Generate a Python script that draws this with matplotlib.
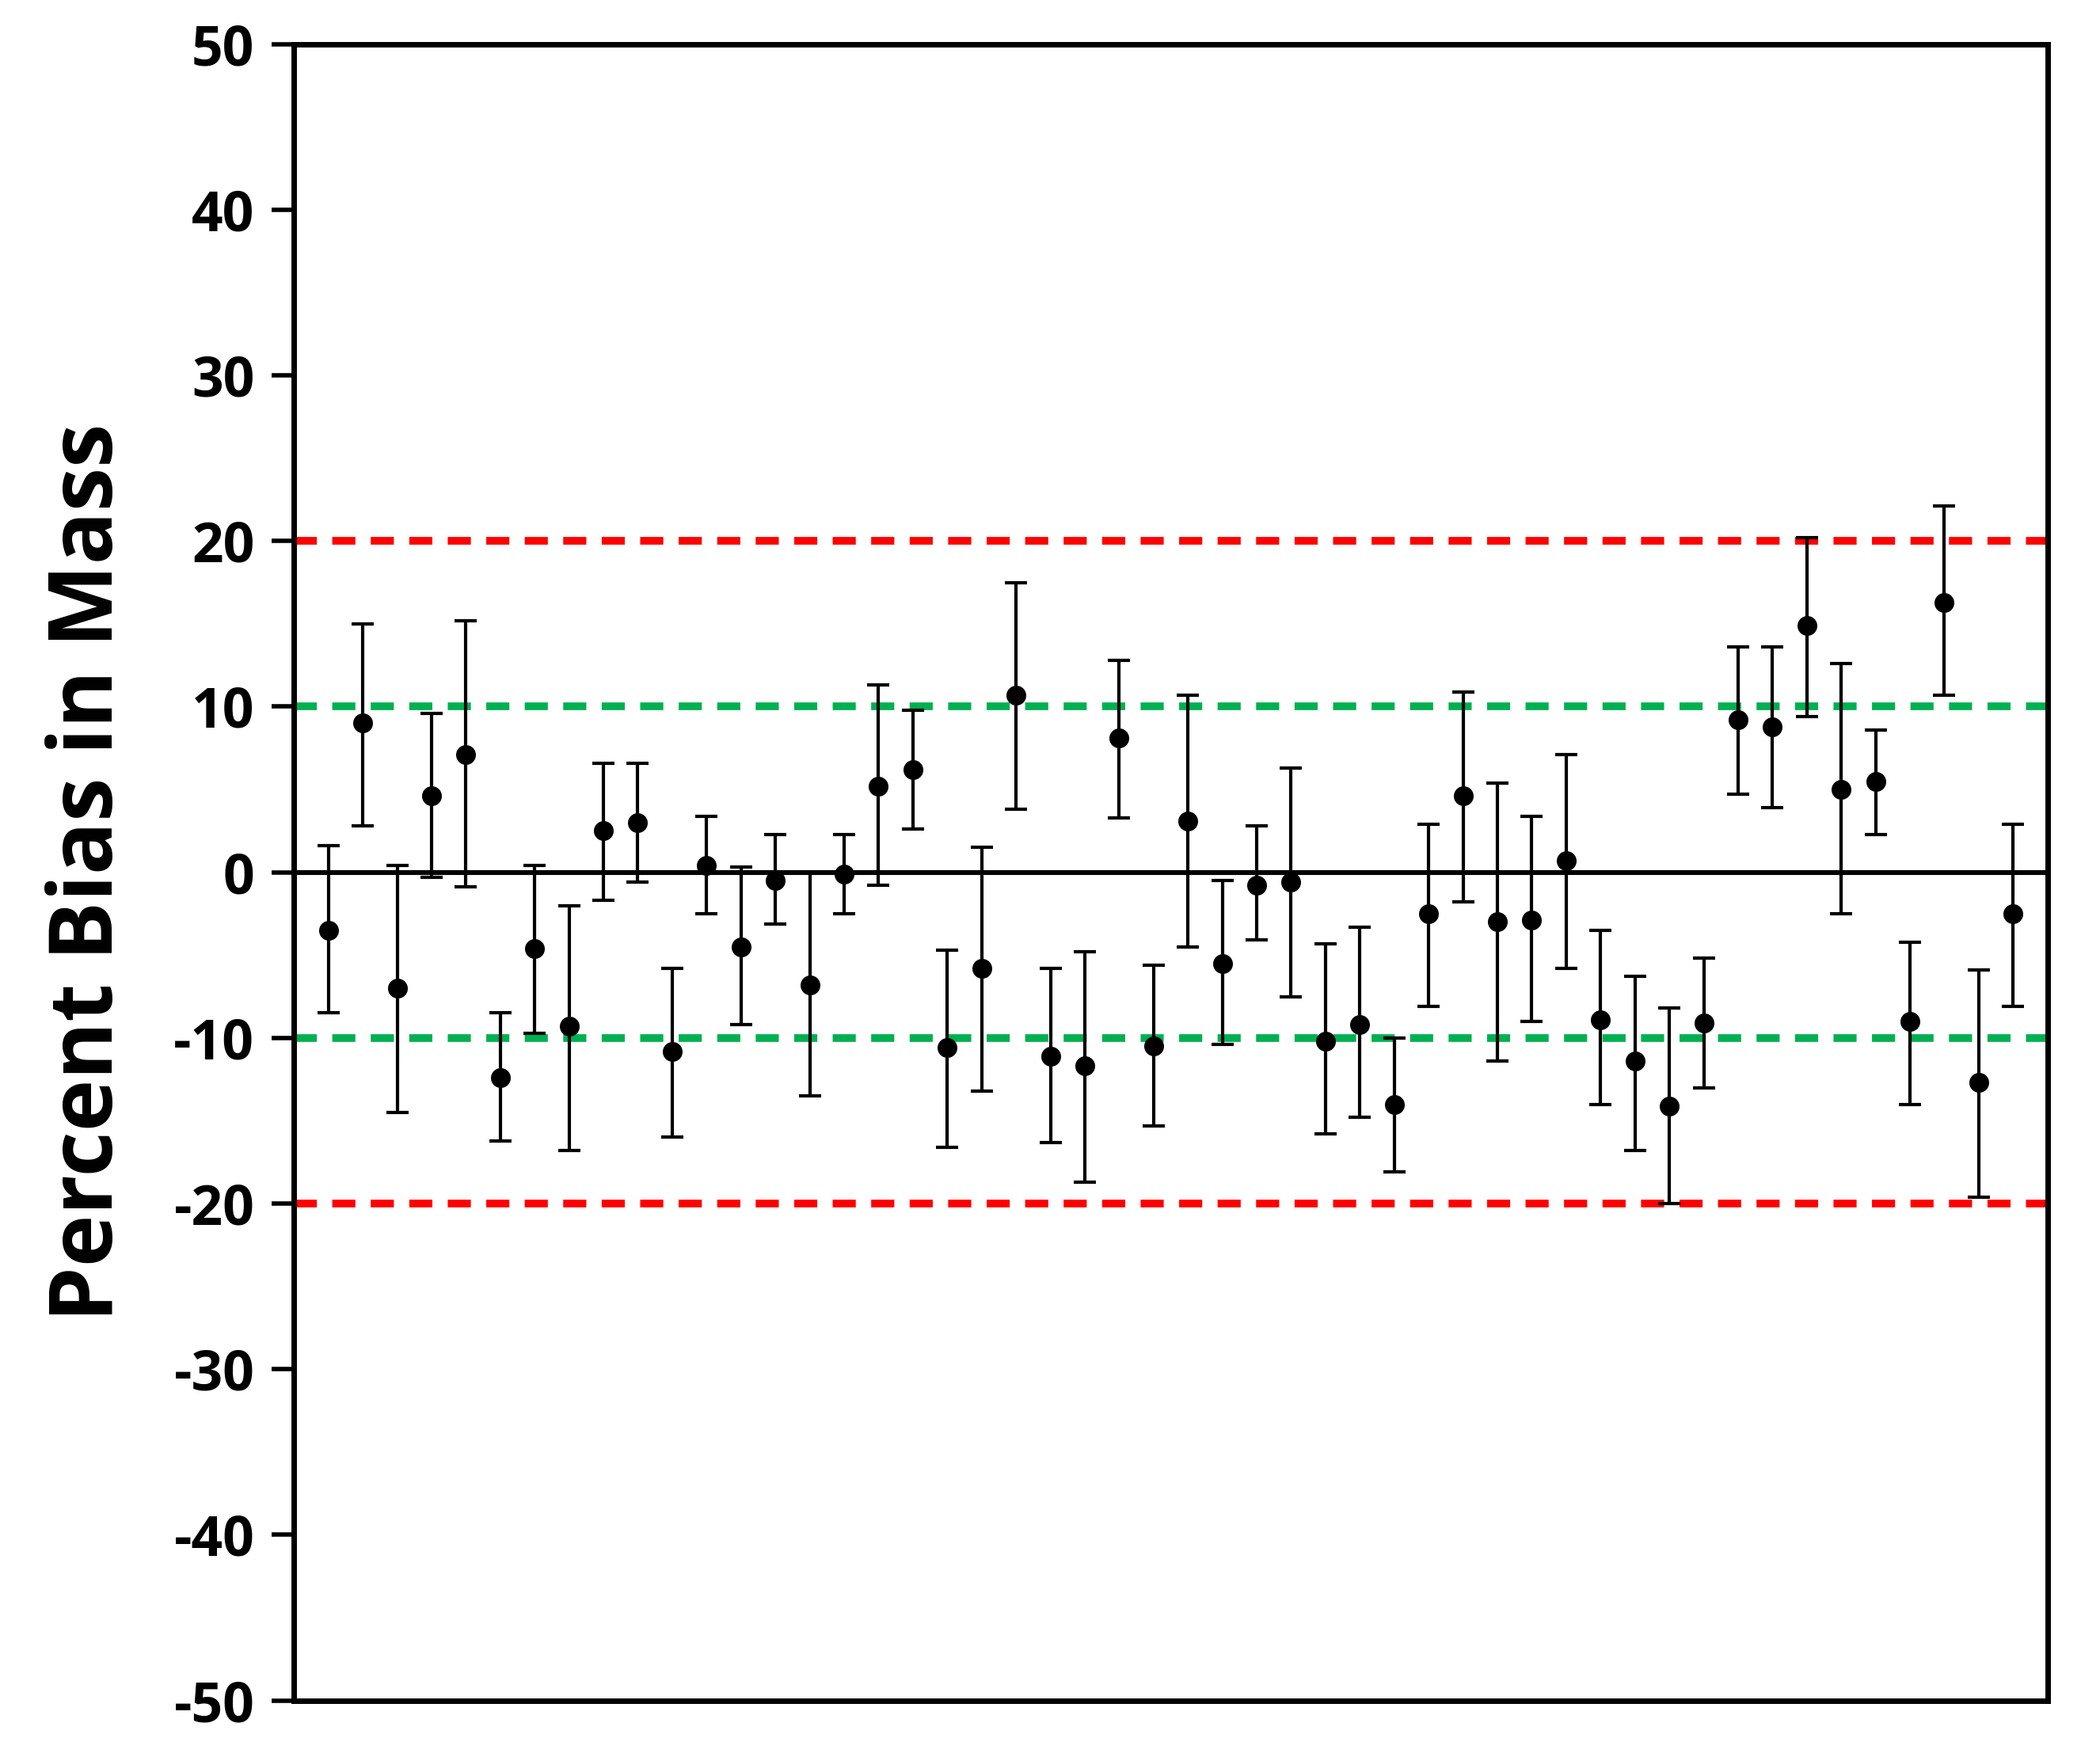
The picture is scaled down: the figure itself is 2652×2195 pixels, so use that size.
import numpy as np
import matplotlib
matplotlib.use("Agg")
import matplotlib.pyplot as plt

# percent bias per sample, with upper / lower ends of error bars
bias = [-3.5, 9.0, -7.0, 4.6, 7.1, -12.4, -4.6, -9.3, 2.5, 3.0,
        -10.8, 0.4, -4.5, -0.5, -6.8, -0.1, 5.2, 6.2, -10.6, -5.8,
        10.7, -11.1, -11.7, 8.1, -10.5, 3.1, -5.5, -0.8, -0.6, -10.2,
        -9.2, -14.0, -2.5, 4.6, -3.0, -2.9, 0.7, -8.9, -11.4, -14.1,
        -9.1, 9.2, 8.8, 14.9, 5.0, 5.5, -9.0, 16.3, -12.7, -2.5]
upper = [1.6, 15.0, 0.4, 9.6, 15.2, -8.5, 0.4, -2.0, 6.6, 6.6,
         -5.8, 3.4, 0.3, 2.3, 0.0, 2.3, 11.3, 9.8, -4.7, 1.5,
         17.5, -5.8, -4.8, 12.8, -5.6, 10.7, -0.5, 2.8, 6.3, -4.3,
         -3.3, -10.0, 2.9, 10.9, 5.4, 3.4, 7.1, -3.5, -6.3, -8.2,
         -5.2, 13.6, 13.6, 20.2, 12.6, 8.6, -4.2, 22.1, -5.9, 2.9]
lower = [-8.5, 2.8, -14.5, -0.3, -0.9, -16.2, -9.7, -16.8, -1.7, -0.6,
         -16.0, -2.5, -9.2, -3.1, -13.5, -2.5, -0.8, 2.6, -16.6, -13.2,
         3.8, -16.3, -18.7, 3.3, -15.3, -4.5, -10.4, -4.1, -7.5, -15.8,
         -14.8, -18.1, -8.1, -1.8, -11.4, -9.0, -5.8, -14.0, -16.8, -20.0,
         -13.0, 4.7, 3.9, 9.4, -2.5, 2.3, -14.0, 10.7, -19.6, -8.1]

bias = np.array(bias)
x = np.arange(1, len(bias) + 1)
yerr = [bias - np.array(lower), np.array(upper) - bias]

plt.rcParams['font.family'] = ['Open Sans', 'DejaVu Sans']
plt.rcParams['axes.unicode_minus'] = False
fig = plt.figure(figsize=(13.26, 10.975), dpi=200)
ax = fig.add_axes([0.140, 0.0216, 0.835, 0.953])

ax.axhline(0, color='black', lw=2.2, zorder=1)
for lvl, col in [(20, '#ff0000'), (-20, '#ff0000'), (10, '#00b050'), (-10, '#00b050')]:
    ax.axhline(lvl, color=col, lw=3.5, ls=(0, (3, 2)), zorder=1)

ax.errorbar(x, bias, yerr=yerr, fmt='o', color='black', ms=8,
            ecolor='black', elinewidth=1.5, capsize=5, capthick=1.5, zorder=3)

ax.set_xlim(0, 51)
ax.set_ylim(-50, 50)
ax.set_yticks(range(-50, 51, 10))
ax.set_xticks([])
for lab in ax.get_yticklabels():
    lab.set_fontweight('bold')
ax.tick_params(axis='y', labelsize=25, width=2, length=10, direction='out', pad=8)
for s in ax.spines.values():
    s.set_linewidth(2.5)
ax.set_ylabel('Percent Bias in Mass', fontsize=40, fontweight='bold', labelpad=18)

fig.savefig('out.png', dpi=200)
